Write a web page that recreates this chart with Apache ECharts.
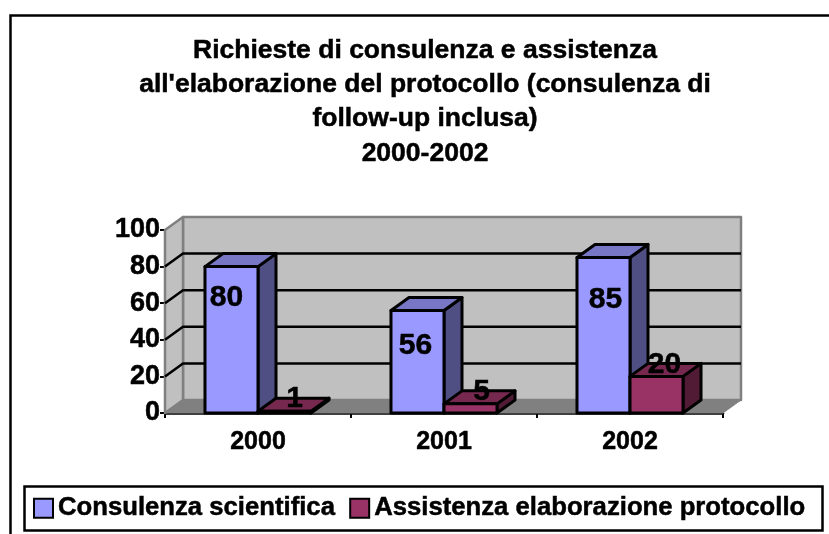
<!DOCTYPE html>
<html>
<head>
<meta charset="utf-8">
<style>
  html, body { margin: 0; padding: 0; background: #fff; }
  #chart { width: 829px; height: 534px; }
</style>
<script src="https://cdn.jsdelivr.net/npm/echarts@6/dist/echarts.min.js"></script>
</head>
<body>
<div id="chart"></div>
<script>
const titleLines = [
  'Richieste di consulenza e assistenza',
  "all'elaborazione del protocollo (consulenza di",
  'follow-up inclusa)',
  '2000-2002'
]
const categories = ['2000', '2001', '2002']
const seriesNames = ['Consulenza scientifica', 'Assistenza elaborazione protocollo']
const consulenza = [80, 56, 85]
const assistenza = [1, 5, 20]
const yTicks = [0, 20, 40, 60, 80, 100]

const FONT = '"Liberation Sans", Arial, sans-serif'
const colors = {
  front: ['#9999ff', '#993366'],
  top: ['#7777c6', '#77284f'],
  side: ['#4f4f84', '#511b36']
}
// spostamento della profondita' 3D
const DX = 18
const DY = -13
// etichette: stesso ordine dei dati, messe a mano come nell'originale
const labelNudge = [
  [[-5, 31], [-2, 35], [2, 42]],
  [[10, -12], [11, -12], [8, -12]]
]
// il testo del riferimento e' piu' pesante del bold normale
const heavy = { textBorderColor: '#000', textBorderWidth: 0.5 }

const poly = (points, fill, stroke, lineWidth) => ({
  type: 'polygon',
  shape: { points },
  style: { fill, stroke, lineWidth, lineJoin: 'round' }
})

// pareti e griglia
const renderWalls = (params, api) => {
  const children = []
  const tick = api.value(0)
  const [, y] = api.coord([0, tick])
  const left = params.coordSys.x
  const right = left + params.coordSys.width
  const [, yTop] = api.coord([0, 100])
  const [, yBase] = api.coord([0, 0])
  if (tick === 0) {
    // parete di fondo, parete laterale, pavimento
    children.push(poly([[left + DX, yTop + DY], [right + DX, yTop + DY], [right + DX, yBase + DY], [left + DX, yBase + DY]], '#c0c0c0', '#808080', 2.5))
    children.push(poly([[left, yTop], [left + DX, yTop + DY], [left + DX, yBase + DY], [left, yBase]], '#c0c0c0', '#808080', 2.5))
    children.push(poly([[left, yBase], [left + DX, yBase + DY], [right + DX, yBase + DY], [right, yBase]], '#808080', '#808080', 1))
  } else if (tick < 100) {
    children.push({
      type: 'polyline',
      shape: { points: [[left, y], [left + DX, y + DY], [right + DX, y + DY]] },
      style: { stroke: '#000', lineWidth: 2.5, fill: null }
    })
  }
  return { type: 'group', children }
}

// barra 3D
const makeBar = (idx) => (params, api) => {
  const cat = api.value(0)
  const val = api.value(1)
  const band = api.size([1, 0])[0]
  const barW = band * 0.285
  const [cx, yTop] = api.coord([cat, val])
  const [, yBase] = api.coord([cat, 0])
  const xL = cx - barW + idx * barW
  const xR = xL + barW
  const nudge = labelNudge[idx][cat]
  const children = [
    poly([[xR, yTop], [xR + DX, yTop + DY], [xR + DX, yBase + DY], [xR, yBase]], colors.side[idx], '#000', 3),
    poly([[xL, yTop], [xL + DX, yTop + DY], [xR + DX, yTop + DY], [xR, yTop]], colors.top[idx], '#000', 3),
    poly([[xL, yTop], [xR, yTop], [xR, yBase], [xL, yBase]], colors.front[idx], '#000', 3),
    {
      type: 'text',
      z2: 10,
      style: {
        text: String(val),
        x: (xL + xR) / 2 + nudge[0],
        y: yTop + nudge[1],
        align: 'center',
        verticalAlign: 'middle',
        font: 'bold 30px ' + FONT,
        fill: '#000',
        stroke: '#000',
        lineWidth: 0.5
      }
    }
  ]
  return { type: 'group', children }
}

const chart = echarts.init(document.getElementById('chart'), null, { renderer: 'canvas' })

chart.setOption({
  animation: false,
  backgroundColor: '#fff',
  title: {
    text: titleLines.join('\n'),
    left: 420,
    top: 28,
    textAlign: 'center',
    textStyle: { fontFamily: FONT, fontWeight: 'bold', fontSize: 26.5, lineHeight: 34.4, color: '#000', ...heavy }
  },
  legend: {
    left: 33,
    top: 495,
    padding: 0,
    itemGap: 14,
    itemWidth: 19,
    itemHeight: 19,
    icon: 'rect',
    data: seriesNames.map((name, i) => ({
      name,
      itemStyle: { color: colors.front[i], borderColor: '#000', borderWidth: 2 }
    })),
    textStyle: { fontFamily: FONT, fontWeight: 'bold', fontSize: 25.7, color: '#000', padding: [0, 0, 0, 0], ...heavy }
  },
  graphic: [
    // cornice esterna e cornice legenda
    {
      type: 'polyline',
      shape: { points: [[10.5, 534], [10.5, 15.5], [829, 15.5]] },
      style: { stroke: '#000', lineWidth: 2.5, fill: null }
    },
    {
      type: 'rect',
      shape: { x: 24.5, y: 486.5, width: 798, height: 44 },
      style: { stroke: '#000', lineWidth: 2.5, fill: null }
    }
  ],
  grid: { left: 165, top: 230, width: 558, height: 183 },
  xAxis: {
    type: 'category',
    data: categories,
    boundaryGap: true,
    axisLine: { lineStyle: { color: '#000', width: 2.5 } },
    axisTick: { show: true, alignWithLabel: false, length: 5, lineStyle: { color: '#000', width: 2 } },
    axisLabel: { fontFamily: FONT, fontWeight: 'bold', fontSize: 25, color: '#000', margin: 17, ...heavy }
  },
  yAxis: {
    type: 'value',
    min: 0,
    max: 100,
    interval: 20,
    splitLine: { show: false },
    axisLine: { show: true, lineStyle: { color: '#000', width: 2.5 } },
    axisTick: { show: true, length: 5, lineStyle: { color: '#000', width: 2 } },
    axisLabel: { fontFamily: FONT, fontWeight: 'bold', fontSize: 27, color: '#000', margin: 5, padding: [8, 0, 0, 0], ...heavy }
  },
  series: [
    {
      type: 'custom',
      name: 'walls',
      z: 1,
      clip: false,
      silent: true,
      renderItem: renderWalls,
      encode: { y: 0 },
      data: yTicks.map((t) => [t])
    },
    {
      type: 'custom',
      name: seriesNames[0],
      z: 2,
      clip: false,
      renderItem: makeBar(0),
      encode: { x: 0, y: 1 },
      data: consulenza.map((v, i) => [i, v])
    },
    {
      type: 'custom',
      name: seriesNames[1],
      z: 3,
      clip: false,
      renderItem: makeBar(1),
      encode: { x: 0, y: 1 },
      data: assistenza.map((v, i) => [i, v])
    }
  ]
})
</script>
</body>
</html>
